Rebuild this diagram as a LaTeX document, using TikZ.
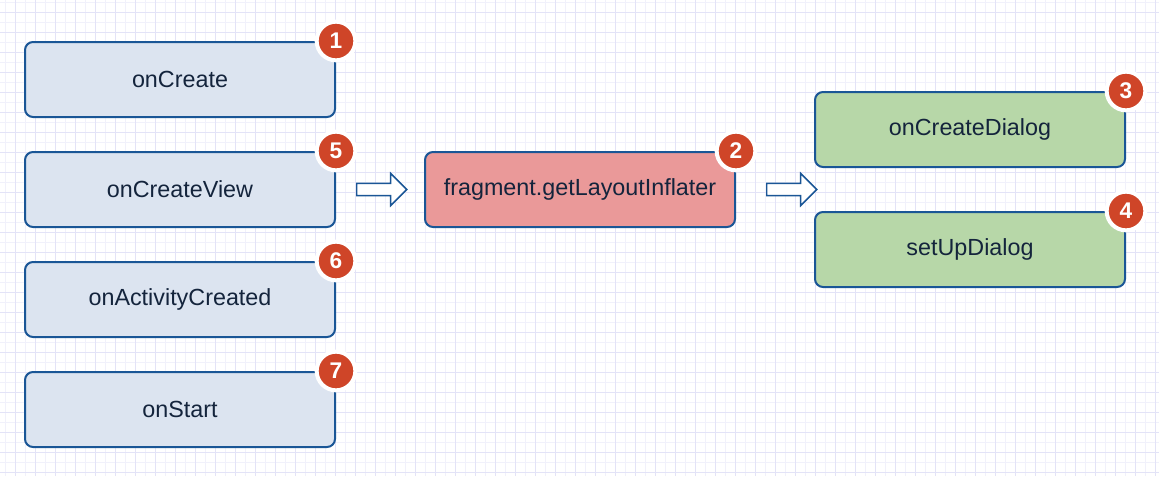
\documentclass[tikz,border=0pt]{standalone}
\usepackage{fontspec}
\setmainfont{Liberation Sans}
\usetikzlibrary{positioning, shapes.arrows, calc}
\definecolor{ink}{HTML}{14243C}
\definecolor{edge}{HTML}{1A5696}
\definecolor{gridmajor}{HTML}{E3E3F7}
\definecolor{gridminor}{HTML}{F1F1FB}
\definecolor{softblue}{HTML}{DCE4F0}
\definecolor{softgreen}{HTML}{B7D7A8}
\definecolor{softred}{HTML}{EA9999}
\definecolor{badgered}{HTML}{CF4528}
\tikzset{
  stage/.style={rectangle, rounded corners=6pt, draw=edge, line width=1.5pt,
    minimum width=232.5pt, minimum height=56.25pt, text=ink,
    font=\fontsize{17.5}{20}\selectfont},
  badge/.style={circle, fill=badgered, draw=white, line width=3pt,
    minimum size=29pt, inner sep=0pt, text=white,
    font=\fontsize{17}{17}\selectfont\bfseries},
  hollowarrow/.style={single arrow, draw=edge, fill=white, line width=1.1pt,
    minimum height=37.5pt, inner xsep=0pt, inner ysep=4.1pt,
    single arrow head extend=7.5pt},
}
\begin{document}
\begin{tikzpicture}[x=0.75pt,y=-0.75pt]
\useasboundingbox (0,0) rectangle (1159,476);
\fill[white] (0,0) rectangle (1159,476);
% grid
\foreach \x in {5,25,...,1155} \draw[gridminor, line width=0.75pt] (\x,0) -- (\x,476);
\foreach \y in {2,22,...,472} \draw[gridminor, line width=0.75pt] (0,\y) -- (1159,\y);
\foreach \x in {15,35,...,1155} \draw[gridmajor, line width=0.75pt] (\x,0) -- (\x,476);
\foreach \y in {12,32,...,472} \draw[gridmajor, line width=0.75pt] (0,\y) -- (1159,\y);

% fragment callbacks
\node[stage, fill=softblue] (create) at (180,79.5) {onCreate};
\node[stage, fill=softblue] (view) at (180,189.5) {onCreateView};
\node[stage, fill=softblue] (activity) at (180,299.5) {onActivityCreated};
\node[stage, fill=softblue] (start) at (180,409.5) {onStart};

% inflater and dialog
\node[hollowarrow, right=15pt of view] (toinflater) {};
\node[stage, fill=softred] (inflater) at (580,189.5) {fragment.getLayoutInflater};
\node[hollowarrow, right=22.5pt of inflater] (todialog) {};
\node[stage, fill=softgreen] (dialog) at (970,129.5) {onCreateDialog};
\node[stage, fill=softgreen] (setup) at (970,249.5) {setUpDialog};

% order badges
\node[badge] (b1) at (create.north east) {1};
\node[badge] (b2) at (inflater.north east) {2};
\node[badge] (b3) at (dialog.north east) {3};
\node[badge] (b4) at (setup.north east) {4};
\node[badge] (b5) at (view.north east) {5};
\node[badge] (b6) at (activity.north east) {6};
\node[badge] (b7) at (start.north east) {7};
\end{tikzpicture}
\end{document}
